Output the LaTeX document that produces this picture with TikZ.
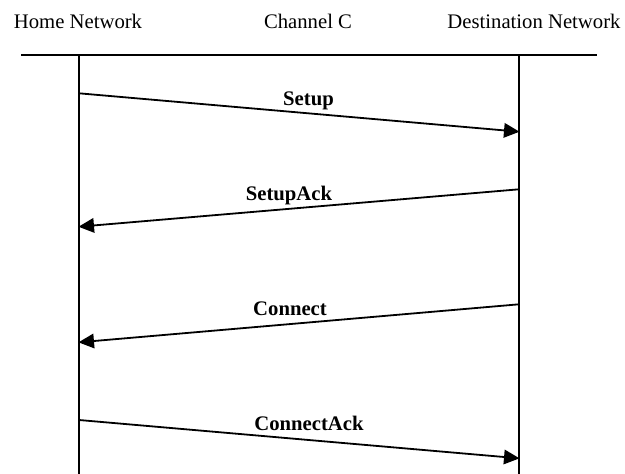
\documentclass[tikz,border=0pt]{standalone}
\usepackage{fontspec}
\setmainfont{Liberation Serif}
\usetikzlibrary{arrows.meta}
\begin{document}
\begin{tikzpicture}[x=1pt,y=-1pt,
  hdr/.style={anchor=base,inner sep=0pt,font=\fontsize{20.7}{24}\selectfont},
  msglabel/.style={anchor=base,inner sep=0pt,font=\fontsize{20.7}{24}\selectfont\bfseries},
  lifeline/.style={line width=1.8pt},
  msg/.style={line width=1.8pt,-{Triangle[length=15.5pt,width=14.5pt]},shorten >=-0.5pt}]
\useasboundingbox (0,0) rectangle (625,474);
% headers
\node[hdr] (home) at (78,28) {Home Network};
\node[hdr] (chan) at (308,28) {Channel C};
\node[hdr] (dest) at (534,28) {Destination Network};
% top line and lifelines
\coordinate (tl) at (21,55);
\coordinate (tr) at (597,55);
\draw[lifeline] (tl) -- (tr);
\coordinate (ht) at (79,55);
\coordinate (hb) at (79,474);
\coordinate (dt) at (519,55);
\coordinate (db) at (519,474);
\draw[lifeline] (ht) -- (hb);
\draw[lifeline] (dt) -- (db);
% message endpoints
\coordinate (s1) at (79,93.3);
\coordinate (e1) at (519,131.7);
\coordinate (s2) at (519,189.3);
\coordinate (e2) at (79,226.7);
\coordinate (s3) at (519,304.3);
\coordinate (e3) at (79,342.3);
\coordinate (s4) at (79,420);
\coordinate (e4) at (519,458.3);
\draw[msg] (s1) -- (e1);
\draw[msg] (s2) -- (e2);
\draw[msg] (s3) -- (e3);
\draw[msg] (s4) -- (e4);
% labels
\node[msglabel] (l1) at (308.5,105) {Setup};
\node[msglabel] (l2) at (289,200) {SetupAck};
\node[msglabel] (l3) at (290,315.7) {Connect};
\node[msglabel] (l4) at (309,430) {ConnectAck};
\end{tikzpicture}
\end{document}
